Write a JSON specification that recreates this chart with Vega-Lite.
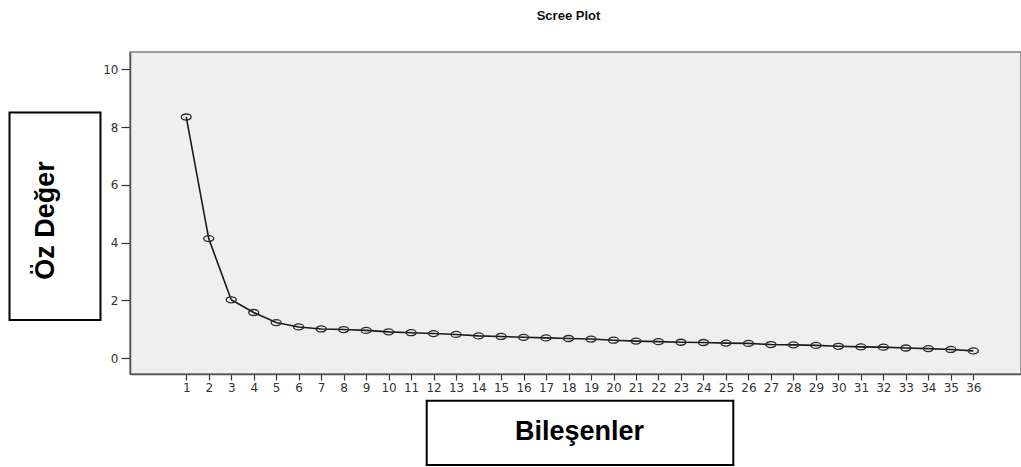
{
  "$schema": "https://vega.github.io/schema/vega-lite/v6.json",
  "width": 891,
  "height": 322,
  "autosize": {"type": "none"},
  "padding": {"left": 130, "top": 52, "right": 0, "bottom": 93},
  "background": "white",
  "title": {
    "text": "Scree Plot",
    "font": "Liberation Sans",
    "fontSize": 13,
    "fontWeight": "bold",
    "color": "#111",
    "anchor": "middle",
    "baseline": "alphabetic",
    "offset": 19,
    "dx": -7
  },
  "config": {
    "view": {"fill": "#efefef", "stroke": "#7f7f7f", "strokeWidth": 1.5},
    "axis": {
      "grid": false,
      "zindex": 1,
      "domainColor": "#555",
      "domainWidth": 1.5,
      "tickColor": "#333",
      "tickWidth": 1.2,
      "labelFont": "DejaVu Sans",
      "labelFontSize": 12,
      "labelColor": "#333",
      "titleFont": "Liberation Sans",
      "titleFontWeight": "bold",
      "titleFontSize": 27,
      "titleColor": "#000"
    },
    "axisX": {"labelOverlap": false, "labelFlush": false}
  },
  "data": {
    "values": [
      {"component": 1, "eigenvalue": 8.35},
      {"component": 2, "eigenvalue": 4.14},
      {"component": 3, "eigenvalue": 2.02},
      {"component": 4, "eigenvalue": 1.58},
      {"component": 5, "eigenvalue": 1.23},
      {"component": 6, "eigenvalue": 1.08},
      {"component": 7, "eigenvalue": 1.01},
      {"component": 8, "eigenvalue": 0.99},
      {"component": 9, "eigenvalue": 0.96},
      {"component": 10, "eigenvalue": 0.91},
      {"component": 11, "eigenvalue": 0.88},
      {"component": 12, "eigenvalue": 0.85},
      {"component": 13, "eigenvalue": 0.82},
      {"component": 14, "eigenvalue": 0.77},
      {"component": 15, "eigenvalue": 0.75},
      {"component": 16, "eigenvalue": 0.72},
      {"component": 17, "eigenvalue": 0.70},
      {"component": 18, "eigenvalue": 0.68},
      {"component": 19, "eigenvalue": 0.66},
      {"component": 20, "eigenvalue": 0.62},
      {"component": 21, "eigenvalue": 0.59},
      {"component": 22, "eigenvalue": 0.57},
      {"component": 23, "eigenvalue": 0.55},
      {"component": 24, "eigenvalue": 0.54},
      {"component": 25, "eigenvalue": 0.52},
      {"component": 26, "eigenvalue": 0.51},
      {"component": 27, "eigenvalue": 0.47},
      {"component": 28, "eigenvalue": 0.46},
      {"component": 29, "eigenvalue": 0.44},
      {"component": 30, "eigenvalue": 0.41},
      {"component": 31, "eigenvalue": 0.39},
      {"component": 32, "eigenvalue": 0.38},
      {"component": 33, "eigenvalue": 0.35},
      {"component": 34, "eigenvalue": 0.33},
      {"component": 35, "eigenvalue": 0.30},
      {"component": 36, "eigenvalue": 0.25}
    ]
  },
  "layer": [
    {
      "mark": {"type": "line", "color": "#1a1a1a", "strokeWidth": 1.6},
      "encoding": {
        "x": {
          "field": "component",
          "type": "quantitative",
          "scale": {"domain": [-1.5, 38.12], "nice": false, "zero": false},
          "axis": {
            "title": "Bileşenler",
            "values": [1,2,3,4,5,6,7,8,9,10,11,12,13,14,15,16,17,18,19,20,21,22,23,24,25,26,27,28,29,30,31,32,33,34,35,36],
            "labelOverlap": false,
            "labelFlush": false,
            "tickSize": 6,
            "labelPadding": 2,
            "titleX": 449,
            "titleY": 65,
            "titleAlign": "center",
            "titleBaseline": "alphabetic"
          }
        },
        "y": {
          "field": "eigenvalue",
          "type": "quantitative",
          "scale": {"domain": [-0.55, 10.6], "nice": false, "zero": false},
          "axis": {
            "title": "Öz Değer",
            "values": [0, 2, 4, 6, 8, 10],
            "tickSize": 9,
            "labelPadding": 3,
            "titleAngle": -90,
            "titleX": -77,
            "titleY": 168,
            "titleAlign": "center",
            "titleBaseline": "alphabetic"
          }
        }
      }
    },
    {
      "mark": {
        "type": "point",
        "shape": "M -1 0 A 1 0.6 0 1 1 1 0 A 1 0.6 0 1 1 -1 0 Z",
        "filled": false,
        "stroke": "#2a2a2a",
        "strokeWidth": 1.3,
        "size": 100,
        "opacity": 1
      },
      "encoding": {
        "x": {
          "field": "component",
          "type": "quantitative",
          "axis": {
            "title": "Bileşenler",
            "values": [1,2,3,4,5,6,7,8,9,10,11,12,13,14,15,16,17,18,19,20,21,22,23,24,25,26,27,28,29,30,31,32,33,34,35,36],
            "labelOverlap": false,
            "labelFlush": false,
            "tickSize": 6,
            "labelPadding": 2,
            "titleX": 449,
            "titleY": 65,
            "titleAlign": "center",
            "titleBaseline": "alphabetic"
          }
        },
        "y": {"field": "eigenvalue", "type": "quantitative"}
      }
    },
    {
      "data": {"values": [{}]},
      "mark": {"type": "rect", "fill": "transparent", "stroke": "#000", "strokeWidth": 2},
      "encoding": {
        "x": {
          "datum": -6.858,
          "type": "quantitative",
          "axis": {
            "title": "Bileşenler",
            "values": [1,2,3,4,5,6,7,8,9,10,11,12,13,14,15,16,17,18,19,20,21,22,23,24,25,26,27,28,29,30,31,32,33,34,35,36],
            "labelOverlap": false,
            "labelFlush": false,
            "tickSize": 6,
            "labelPadding": 2,
            "titleX": 449,
            "titleY": 65,
            "titleAlign": "center",
            "titleBaseline": "alphabetic"
          }
        },
        "x2": {"datum": -2.812},
        "y": {"datum": 8.505, "type": "quantitative"},
        "y2": {"datum": 1.32}
      }
    },
    {
      "data": {"values": [{}]},
      "mark": {"type": "rect", "fill": "transparent", "stroke": "#000", "strokeWidth": 2},
      "encoding": {
        "x": {
          "datum": 11.693,
          "type": "quantitative",
          "axis": {
            "title": "Bileşenler",
            "values": [1,2,3,4,5,6,7,8,9,10,11,12,13,14,15,16,17,18,19,20,21,22,23,24,25,26,27,28,29,30,31,32,33,34,35,36],
            "labelOverlap": false,
            "labelFlush": false,
            "tickSize": 6,
            "labelPadding": 2,
            "titleX": 449,
            "titleY": 65,
            "titleAlign": "center",
            "titleBaseline": "alphabetic"
          }
        },
        "x2": {"datum": 25.327},
        "y": {"datum": -1.474, "type": "quantitative"},
        "y2": {"datum": -3.701}
      }
    }
  ]
}
